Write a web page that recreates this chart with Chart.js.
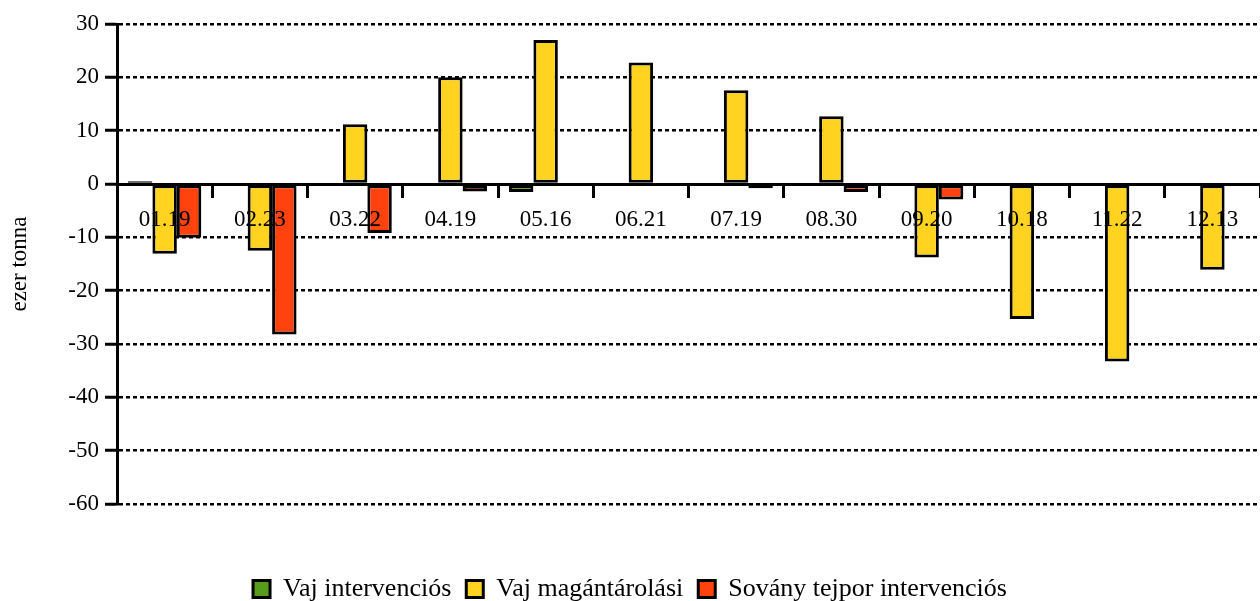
<!DOCTYPE html>
<html>
<head>
<meta charset="utf-8">
<script src="https://cdn.jsdelivr.net/npm/chart.js@4"></script>
<style>
  html, body { margin: 0; padding: 0; background: #fff; overflow: hidden; }
  #doboz { width: 1260px; height: 601px; overflow: hidden; }
</style>
</head>
<body>
<div id="doboz"><canvas id="grafik" width="1260" height="612"></canvas></div>
<script>
// Adatok (ezer tonna)
const datumok = ["01.19", "02.23", "03.22", "04.19", "05.16", "06.21", "07.19", "08.30", "09.20", "10.18", "11.22", "12.13"];
const vajIntervencios = [0.5, 0, 0, 0, -1.5, -0.2, 0, 0, 0, 0, 0, 0];
const vajMagantarolasi = [-13.1, -12.5, 11.2, 20.0, 27.0, 22.8, 17.6, 12.7, -13.8, -25.3, -33.3, -16.1];
const sovanyTejpor = [-10.1, -28.2, -9.2, -1.4, 0, -0.2, -0.8, -1.5, -2.9, 0, 0, 0];

const betu = "'Liberation Serif', 'Times New Roman', serif";

function sorozat(cimke, adat, szin) {
    return {
        label: cimke,
        data: adat,
        backgroundColor: szin,
        borderColor: '#000',
        borderWidth: 3,
        borderSkipped: false,
        categoryPercentage: 0.77,
        barPercentage: 1.0
    };
}

const ctx = document.getElementById('grafik').getContext('2d');
new Chart(ctx, {
    type: 'bar',
    data: {
        labels: datumok,
        datasets: [
            sorozat('Vaj intervenciós', vajIntervencios, '#579d1c'),
            sorozat('Vaj magántárolási', vajMagantarolasi, '#ffd320'),
            sorozat('Sovány tejpor intervenciós', sovanyTejpor, '#ff420e')
        ]
    },
    options: {
        responsive: false,
        animation: false,
        layout: { padding: { top: 24, right: 0, bottom: 0, left: 0 } },
        scales: {
            x: {
                position: { y: 0 },
                offset: true,
                grid: {
                    z: 1,
                    offset: true,
                    drawOnChartArea: false,
                    drawTicks: true,
                    tickLength: 12,
                    tickWidth: 3,
                    tickColor: '#000'
                },
                border: { display: true, color: '#000', width: 3, z: 1 },
                ticks: {
                    z: 1,
                    color: '#000',
                    font: { family: betu, size: 23 },
                    padding: 10,
                    maxRotation: 0,
                    autoSkip: false
                }
            },
            y: {
                min: -60,
                max: 30,
                afterFit: s => { s.width = 117; },
                grid: {
                    color: c => c.tick && c.tick.value === 0 ? 'rgba(0,0,0,0)' : '#000',
                    lineWidth: 2.5,
                    drawTicks: true,
                    tickLength: 12,
                    tickWidth: 3,
                    tickColor: '#000',
                    tickBorderDash: []
                },
                border: { display: true, color: '#000', width: 3, dash: [4, 3] },
                ticks: {
                    stepSize: 10,
                    color: '#000',
                    font: { family: betu, size: 23 },
                    padding: 6
                },
                title: {
                    display: true,
                    text: 'ezer tonna',
                    color: '#000',
                    font: { family: betu, size: 23 },
                    padding: { top: 6, bottom: 0 }
                }
            }
        },
        plugins: {
            // üres alcím csak térköznek a diagram és a jelmagyarázat között
            subtitle: {
                display: true,
                position: 'bottom',
                weight: 500,
                text: ' ',
                font: { size: 10, lineHeight: 1 },
                padding: { top: 47, bottom: 0 }
            },
            legend: {
                display: true,
                position: 'bottom',
                weight: 1000,
                labels: {
                    color: '#000',
                    font: { family: betu, size: 26 },
                    boxWidth: 17,
                    boxHeight: 17,
                    padding: 15
                }
            },
            tooltip: { enabled: false }
        }
    }
});
</script>
</body>
</html>
